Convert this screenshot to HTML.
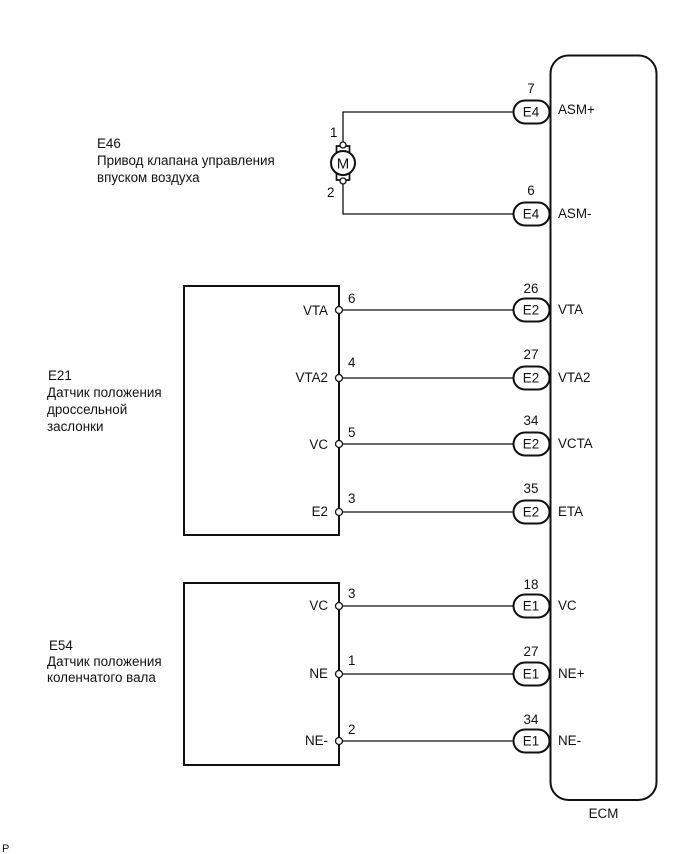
<!DOCTYPE html>
<html>
<head>
<meta charset="utf-8">
<style>
html,body{margin:0;padding:0;background:#fff;width:690px;height:854px;overflow:hidden}
svg{display:block}
text{font-family:"Liberation Sans",sans-serif;font-size:13.4px;fill:#111}
.t{text-anchor:middle}
.e{text-anchor:end}
.w{stroke:#111;stroke-width:1.3;fill:none}
.b{stroke:#111;stroke-width:2;fill:none}
.p{stroke:#111;stroke-width:2;fill:#fff}
.c{stroke:#111;stroke-width:1.3;fill:#fff}
</style>
</head>
<body>
<svg width="690" height="854" viewBox="0 0 690 854" xmlns="http://www.w3.org/2000/svg">
<!-- ECM -->
<rect class="b" x="550.5" y="55.5" width="106" height="744.5" rx="18" ry="18"/>
<text x="603.500" y="818" class="t">ECM</text>

<!-- wires -->
<path class="w" d="M343 145V112H513"/>
<path class="w" d="M343 181V214H513"/>
<path class="w" d="M339 310H513M339 378H513M339 444H513M339 512H513M339 606H513M339 674H513M339 741H513"/>

<!-- boxes -->
<rect class="b" x="184" y="286" width="155" height="249"/>
<rect class="b" x="184" y="583" width="155" height="182"/>

<!-- motor -->
<path class="b" d="M340 146H336.500V153M346 146H349.500V153M340 180H336.500V173M346 180H349.500V173" style="stroke-width:1.700"/>
<circle class="b" cx="343" cy="163" r="12"/>
<text x="343" y="168.500" class="t" style="font-size:15px">M</text>
<circle class="c" cx="343" cy="145" r="3"/>
<circle class="c" cx="343" cy="181" r="3"/>
<text x="330" y="137">1</text>
<text x="327" y="197">2</text>

<!-- pin circles -->
<circle class="c" cx="339" cy="310" r="3.500"/>
<circle class="c" cx="339" cy="378" r="3.500"/>
<circle class="c" cx="339" cy="444" r="3.500"/>
<circle class="c" cx="339" cy="512" r="3.500"/>
<circle class="c" cx="339" cy="606" r="3.500"/>
<circle class="c" cx="339" cy="674" r="3.500"/>
<circle class="c" cx="339" cy="741" r="3.500"/>

<!-- left pin labels -->
<text x="328" y="315" class="e">VTA</text>
<text x="328" y="382" class="e">VTA2</text>
<text x="328" y="449" class="e">VC</text>
<text x="328" y="516" class="e">E2</text>
<text x="328" y="610" class="e">VC</text>
<text x="328" y="678" class="e">NE</text>
<text x="328" y="745" class="e">NE-</text>

<text x="348" y="303">6</text>
<text x="348" y="367">4</text>
<text x="348" y="437">5</text>
<text x="348" y="503">3</text>
<text x="348" y="598">3</text>
<text x="348" y="665">1</text>
<text x="348" y="734">2</text>

<!-- connector pills -->
<rect class="p" x="513.500" y="100.500" width="36" height="23" rx="11.500"/>
<rect class="p" x="513.500" y="202.500" width="36" height="23" rx="11.500"/>
<rect class="p" x="513.500" y="298.500" width="36" height="23" rx="11.500"/>
<rect class="p" x="513.500" y="366.500" width="36" height="23" rx="11.500"/>
<rect class="p" x="513.500" y="432.500" width="36" height="23" rx="11.500"/>
<rect class="p" x="513.500" y="500.500" width="36" height="23" rx="11.500"/>
<rect class="p" x="513.500" y="594.500" width="36" height="23" rx="11.500"/>
<rect class="p" x="513.500" y="662.500" width="36" height="23" rx="11.500"/>
<rect class="p" x="513.500" y="729.500" width="36" height="23" rx="11.500"/>

<text x="531" y="116.500" class="t">E4</text>
<text x="531" y="218.500" class="t">E4</text>
<text x="531" y="314.500" class="t">E2</text>
<text x="531" y="382.500" class="t">E2</text>
<text x="531" y="448.500" class="t">E2</text>
<text x="531" y="516.500" class="t">E2</text>
<text x="531" y="610.500" class="t">E1</text>
<text x="531" y="678.500" class="t">E1</text>
<text x="531" y="745.500" class="t">E1</text>

<text x="531" y="93" class="t">7</text>
<text x="531" y="195" class="t">6</text>
<text x="531" y="293" class="t">26</text>
<text x="531" y="359" class="t">27</text>
<text x="531" y="425" class="t">34</text>
<text x="531" y="493" class="t">35</text>
<text x="531" y="589" class="t">18</text>
<text x="531" y="656" class="t">27</text>
<text x="531" y="724" class="t">34</text>

<!-- ECM pin labels -->
<text x="558" y="114">ASM+</text>
<text x="558" y="218">ASM-</text>
<text x="558" y="314">VTA</text>
<text x="558" y="382">VTA2</text>
<text x="558" y="448">VCTA</text>
<text x="558" y="516">ETA</text>
<text x="558" y="610">VC</text>
<text x="558" y="678">NE+</text>
<text x="558" y="745">NE-</text>

<!-- descriptions -->
<text x="97" y="148">E46</text>
<text x="97" y="165">Привод клапана управления</text>
<text x="97" y="182">впуском воздуха</text>

<text x="48" y="380">E21</text>
<text x="47" y="397">Датчик положения</text>
<text x="47" y="414">дроссельной</text>
<text x="47" y="431">заслонки</text>

<text x="49" y="650">E54</text>
<text x="47" y="666">Датчик положения</text>
<text x="47" y="682">коленчатого вала</text>

<text x="2" y="852" style="font-size:11px">P</text>
</svg>
</body>
</html>
